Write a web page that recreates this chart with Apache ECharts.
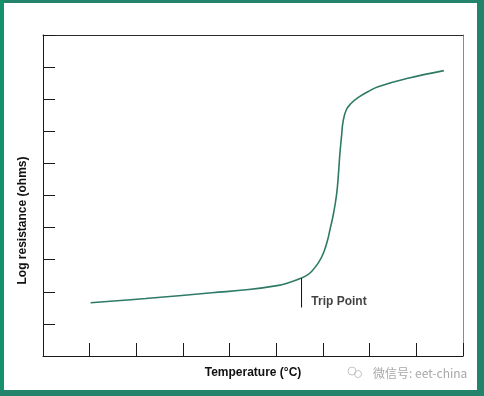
<!DOCTYPE html>
<html>
<head>
<meta charset="utf-8">
<style>
html,body{margin:0;padding:0;background:#fff;}
#chart{width:484px;height:396px;}
</style>
<script src="https://cdn.jsdelivr.net/npm/echarts@6/dist/echarts.min.js"></script>
</head>
<body>
<div id="chart"></div>
<script>
// Temperature (arbitrary units along x) and log resistance (arbitrary units)
const temperature = [1.02, 2.2, 3.62, 4.41, 5.05, 5.26, 5.54, 5.66, 5.76, 5.90, 6.01, 6.10, 6.15, 6.22, 6.29, 6.33, 6.36, 6.40, 6.43, 6.50, 6.61, 6.75, 6.97, 7.18, 7.82, 8.59];
const logResistance = [1.66, 1.79, 1.97, 2.07, 2.20, 2.28, 2.43, 2.52, 2.64, 2.90, 3.21, 3.62, 3.94, 4.40, 5.02, 5.65, 6.27, 6.89, 7.30, 7.67, 7.88, 8.05, 8.24, 8.39, 8.65, 8.89];
const tripPointX = 5.54;
const tripLine = [[tripPointX, 2.42], [tripPointX, 1.51]];
const tripLabel = 'Trip Point';
const xTitle = 'Temperature (°C)';
const yTitle = 'Log resistance (ohms)';
const watermark = '微信号: eet-china';

const curve = temperature.map((t, i) => [t, logResistance[i]]);

const chart = echarts.init(document.getElementById('chart'), null, {renderer: 'canvas'});
const font = '"Liberation Sans", Arial, sans-serif';
chart.setOption({
  backgroundColor: '#ffffff',
  animation: false,
  grid: {left: 43, top: 35, right: 21, bottom: 40},
  xAxis: [{
    type: 'value', min: 0, max: 9, interval: 1,
    name: xTitle, nameLocation: 'middle', nameGap: 11,
    nameTextStyle: {fontFamily: font, fontWeight: 'bold', fontSize: 12, color: '#111'},
    axisLine: {show: true, onZero: false, lineStyle: {color: '#1a1a1a', width: 1}},
    axisTick: {show: true, inside: true, length: 13, lineStyle: {color: '#1a1a1a', width: 1}},
    axisLabel: {show: false},
    splitLine: {show: false}
  }, {
    type: 'value', min: 0, max: 9, position: 'top',
    axisLine: {show: true, onZero: false, lineStyle: {color: '#2a2a2a', width: 1}},
    axisTick: {show: false}, axisLabel: {show: false}, splitLine: {show: false}
  }],
  yAxis: [{
    type: 'value', min: 0, max: 10, interval: 1,
    name: yTitle, nameLocation: 'middle', nameRotate: 90, nameGap: 14,
    nameTextStyle: {fontFamily: font, fontWeight: 'bold', fontSize: 12, color: '#111', padding: [0, 50, 0, 0]},
    axisLine: {show: true, onZero: false, lineStyle: {color: '#1a1a1a', width: 1}},
    axisTick: {show: true, inside: true, length: 12, lineStyle: {color: '#1a1a1a', width: 1}},
    axisLabel: {show: false},
    splitLine: {show: false}
  }, {
    type: 'value', min: 0, max: 10, position: 'right',
    axisLine: {show: true, onZero: false, lineStyle: {color: '#8a8a8a', width: 1}},
    axisTick: {show: false}, axisLabel: {show: false}, splitLine: {show: false}
  }],
  series: [{
    type: 'line', data: curve, smooth: 0.45,
    symbol: 'none', lineStyle: {color: '#2f7a66', width: 1.6}
  }, {
    type: 'line', data: tripLine, symbol: 'none',
    lineStyle: {color: '#111', width: 1}
  }, {
    type: 'scatter', data: [[5.75, 1.70]], symbolSize: 0,
    label: {show: true, formatter: tripLabel, position: 'right', distance: 0,
      fontFamily: font, fontWeight: 'bold', fontSize: 12, color: '#111'}
  }],
  graphic: [
    {type: 'rect', shape: {x: 0, y: 0, width: 484, height: 3}, style: {fill: '#23846b'}},
    {type: 'rect', shape: {x: 0, y: 0, width: 4, height: 396}, style: {fill: '#17906c'}},
    {type: 'rect', shape: {x: 0, y: 390, width: 484, height: 6}, style: {fill: '#23846b'}},
    {type: 'rect', shape: {x: 477, y: 0, width: 7, height: 396}, style: {fill: '#23846b'}},
    {type: 'circle', shape: {cx: 352, cy: 371, r: 4}, style: {fill: 'none', stroke: '#c4c4c4', lineWidth: 1}},
    {type: 'circle', shape: {cx: 358, cy: 374, r: 3.5}, style: {fill: 'none', stroke: '#c4c4c4', lineWidth: 1}},
    {type: 'text', x: 373, y: 373, style: {text: watermark, fontFamily: '"Noto Sans CJK SC", sans-serif', fontSize: 12, fill: '#a8a8a8', verticalAlign: 'middle'}}
  ]
});
</script>
</body>
</html>
